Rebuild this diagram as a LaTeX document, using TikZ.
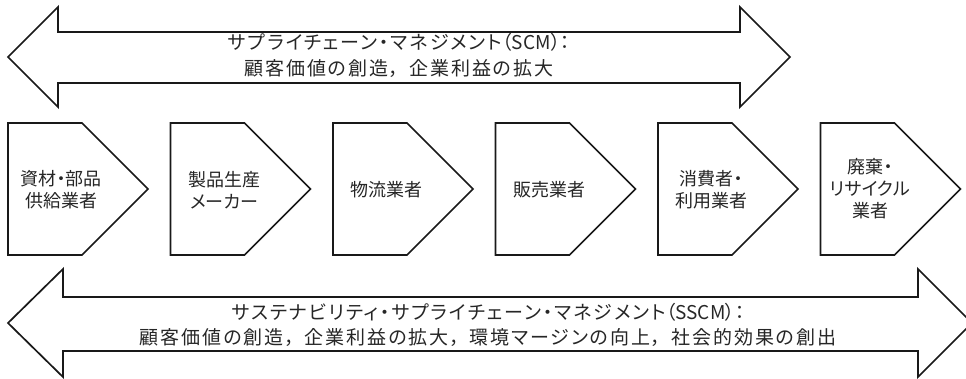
\documentclass[tikz,border=0pt]{standalone}
\usepackage{fontspec}
\newfontfamily\jpbox{Noto Sans CJK JP}[RawFeature=+palt]
\newfontfamily\jparr{Noto Sans CJK JP}[RawFeature=+palt,LetterSpace=10]
\newcommand{\cmsep}{，\hspace{10pt}}
\newcommand{\latn}[1]{{\jpbox #1}}
\begin{document}
\begin{tikzpicture}[x=1pt,y=-1pt,
  shapeline/.style={draw=black!90, line width=1.7pt, line join=miter},
  boxtext/.style={font=\jpbox\fontsize{18}{22}\selectfont, align=center, inner sep=0pt, text=black!85},
  arrtext/.style={font=\jparr\fontsize{19}{25.5}\selectfont, align=center, inner sep=0pt, text=black!85}]
\useasboundingbox (0,0) rectangle (966,378);
% top arrow (SCM)
\draw[shapeline] (8,57) -- (58,7) -- (58,32) -- (740,32) -- (740,7) -- (790,57)
  -- (740,107) -- (740,83) -- (58,83) -- (58,107) -- cycle;
% bottom arrow (SSCM)
\draw[shapeline] (8,323) -- (63,269) -- (63,297) -- (918,297) -- (918,269) -- (972,323)
  -- (918,377) -- (918,351) -- (63,351) -- (63,377) -- cycle;
% pentagon boxes
\foreach \L in {8,170.5,333,495.5,658,820.5}{
  \draw[shapeline] (\L,123) -- ({\L+74},123) -- ({\L+140},189) -- ({\L+74},255) -- (\L,255) -- cycle;
}
\node[arrtext] (scm) at (399,55.5) {サプライチェーン・マネジメント\latn{（SCM）：}\\顧客価値の創造\cmsep 企業利益の拡大};
\node[arrtext] (sscm) at (488,325) {サステナビリティ・サプライチェーン・マネジメント\latn{（SSCM）：}\\顧客価値の創造\cmsep 企業利益の拡大\cmsep 環境マージンの向上\cmsep 社会的効果の創出};
\node[boxtext] (b1) at (61,190) {資材・部品\\供給業者};
\node[boxtext] (b2) at (224,190) {製品生産\\メーカー};
\node[boxtext] (b3) at (386,190) {物流業者};
\node[boxtext] (b4) at (549,190) {販売業者};
\node[boxtext] (b5) at (711,190) {消費者・\\利用業者};
\node[boxtext] (b6) at (870,189) {廃棄・\\リサイクル\\業者};
\end{tikzpicture}
\end{document}
